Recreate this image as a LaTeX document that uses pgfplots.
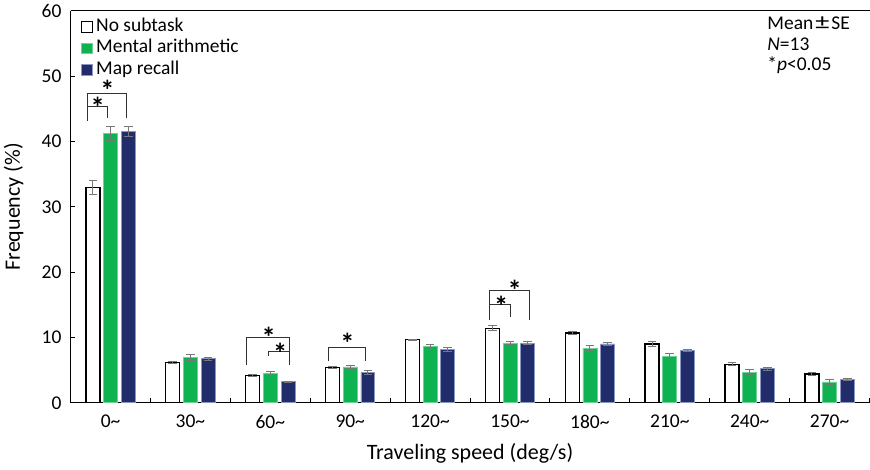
\documentclass[border=0pt]{standalone}
\usepackage{pgfplots}
\pgfplotsset{compat=1.18}
\usepackage{fontspec}
\setmainfont{Carlito}
\definecolor{cgreen}{RGB}{14,178,80}
\definecolor{cblue}{RGB}{35,44,106}
\definecolor{cblueedge}{RGB}{140,150,195}
\definecolor{errgray}{RGB}{120,120,120}
\newcommand{\tfont}{\fontsize{19.5bp}{23bp}\selectfont}
\newcommand{\lfont}{\fontsize{22bp}{26bp}\selectfont}
\pgfplotstableread{
x  y     e
0  33.0  1.05
1  6.13  0.12
2  4.17  0.10
3  5.44  0.12
4  9.66  0.10
5  11.40 0.36
6  10.70 0.18
7  9.00  0.36
8  5.86  0.23
9  4.40  0.30
}\nosub
\pgfplotstableread{
x  y     e
0  41.2  1.07
1  6.94  0.40
2  4.47  0.28
3  5.50  0.25
4  8.60  0.38
5  9.15  0.20
6  8.35  0.38
7  7.10  0.41
8  4.70  0.33
9  3.20  0.43
}\arith
\pgfplotstableread{
x  y     e
0  41.6  0.75
1  6.74  0.20
2  3.20  0.13
3  4.63  0.25
4  8.10  0.30
5  9.15  0.23
6  9.00  0.20
7  7.95  0.15
8  5.20  0.20
9  3.60  0.18
}\maprec
\pgfplotsset{
  sqlegend/.style={legend image code/.code={\draw[##1,line width=1bp] (0bp,-5.3bp) rectangle (10.6bp,5.3bp);}},
  errs/.style={error bars/.cd, y dir=both, y explicit,
    error bar style={line width=1bp,color=errgray},
    error mark options={rotate=90,mark size=4.3bp,line width=1bp,color=errgray}},
}
\begin{document}
\begin{tikzpicture}
\begin{axis}[
  at={(0,0)}, anchor=south west,
  width=800bp, height=392.3bp, scale only axis,
  xmin=-0.5, xmax=9.5, ymin=0, ymax=60,
  axis x line*=box, axis y line*=left,
  axis line style={line width=1bp, black},
  ybar,
  /pgf/number format/assume math mode=true,
  xtick={0.5,1.5,...,9.5},
  xticklabels={0\textasciitilde,30\textasciitilde,60\textasciitilde,90\textasciitilde,120\textasciitilde,150\textasciitilde,180\textasciitilde,210\textasciitilde,240\textasciitilde,270\textasciitilde},
  xticklabel style={font=\tfont, xshift=-40bp, anchor=north, inner sep=0pt, yshift=-12.2bp},
  xtick pos=lower,
  ytick={0,10,...,60},
  ytick pos=left,
  yticklabel style={font=\tfont, inner sep=0pt, xshift=-9bp},
  tick align=inside,
  major tick length=4.7bp,
  tick style={line width=1bp, black},
  xlabel={Traveling speed (deg/s)},
  xlabel style={font=\lfont, at={(axis description cs:0.5,0)}, anchor=base, inner sep=0pt, yshift=-56.7bp},
  ylabel={Frequency (\%)},
  ylabel style={font=\lfont, at={(axis description cs:-0.0634,0.5)}, anchor=base, inner sep=0pt},
  legend style={draw=none, fill=none, at={(axis description cs:0.0129,0.984)}, anchor=north west,
    font=\tfont, inner sep=0pt, row sep=2.5bp, column sep=2.5bp,
    nodes={inner sep=1bp, text height=13bp, text depth=4bp}},
  legend cell align=left,
]
\addplot[fill=white, draw=black, line width=1.3bp, bar width=14bp, bar shift=-17.7bp, sqlegend, errs]
  table[x=x, y=y, y error=e] {\nosub};
\addlegendentry{No subtask}
\addplot[fill=cgreen, draw=cgreen!60!white, line width=0.6bp, bar width=14bp, bar shift=0bp, sqlegend, errs]
  table[x=x, y=y, y error=e] {\arith};
\addlegendentry{Mental arithmetic}
\addplot[fill=cblue, draw=cblueedge, line width=0.8bp, bar width=14bp, bar shift=17.7bp, sqlegend, errs]
  table[x=x, y=y, y error=e] {\maprec};
\addlegendentry{Map recall}

% significance brackets
\begin{scope}[line width=1bp, black!80]
\draw (axis cs:-0.29,43.22) -- (axis cs:-0.29,47.35) -- (axis cs:0.195,47.35) -- (axis cs:0.195,43.59);
\draw (axis cs:-0.29,45.32) -- (axis cs:-0.04,45.32) -- (axis cs:-0.04,43.59);
\draw (axis cs:1.70,5.75) -- (axis cs:1.70,9.99) -- (axis cs:2.245,9.99) -- (axis cs:2.245,5.75);
\draw (axis cs:1.975,7.13) -- (axis cs:1.975,7.89) -- (axis cs:2.245,7.89);
\draw (axis cs:2.733,6.36) -- (axis cs:2.733,8.50) -- (axis cs:3.195,8.50) -- (axis cs:3.195,6.36);
\draw (axis cs:4.745,12.74) -- (axis cs:4.745,17.17) -- (axis cs:5.241,17.17) -- (axis cs:5.241,12.74);
\draw (axis cs:4.745,15.03) -- (axis cs:5.004,15.03) -- (axis cs:5.004,13.15);
\end{scope}
\begin{scope}[every node/.style={inner sep=0pt, anchor=center, yshift=-5.8bp, font=\fontsize{28.5bp}{28bp}\selectfont\bfseries}]
\node at (axis cs:-0.16,46.1) {*};
\node at (axis cs:-0.04,48.69) {*};
\node at (axis cs:1.98,10.91) {*};
\node at (axis cs:2.125,8.53) {*};
\node at (axis cs:2.966,9.99) {*};
\node at (axis cs:5.06,18.14) {*};
\node at (axis cs:4.89,15.60) {*};
\end{scope}
\begin{scope}[every node/.style={inner sep=0pt, anchor=base west, font=\tfont}]
\node at (axis description cs:0.8720,0.9528) {Mean\hspace{2bp}\scalebox{1.45}[1.15]{±}\hspace{2bp}SE};
\node at (axis description cs:0.8720,0.8998) {\textit{N}=13};
\node at (axis description cs:0.8720,0.8483) {*\textit{p}<0.05};
\end{scope}
\end{axis}
\useasboundingbox (-70.7bp,-66.7bp) rectangle (799.3bp,403.3bp);
\end{tikzpicture}
\end{document}
